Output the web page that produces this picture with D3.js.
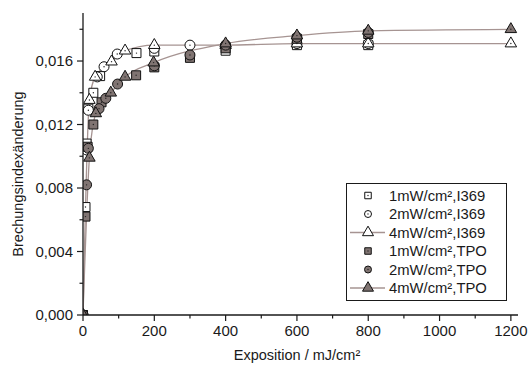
<!DOCTYPE html>
<html><head><meta charset="utf-8">
<script src="https://cdn.jsdelivr.net/npm/d3@7"></script>
<style>html,body{margin:0;padding:0;background:#fff;}svg{display:block;}</style>
</head><body>
<svg id="chart" width="528" height="365"></svg>
<script>
// ---- data ----
const i369_1mW_x = [0, 7, 10, 15, 29, 48, 150, 200, 400, 600, 800];
const i369_1mW_y = [0, 0.0068, 0.0108, 0.0130, 0.0140, 0.01505, 0.0165, 0.0166, 0.01665, 0.0170, 0.0170];
const i369_2mW_x = [0, 10, 15, 40, 59, 96, 200, 300, 400, 600, 800];
const i369_2mW_y = [0, 0.0104, 0.0129, 0.0150, 0.01564, 0.01644, 0.0168, 0.0170, 0.0170, 0.0171, 0.0171];
const i369_4mW_x = [0, 18, 34, 80, 118, 200, 400, 600, 800, 1200];
const i369_4mW_y = [0, 0.01354, 0.0150, 0.01596, 0.01665, 0.0170, 0.0170, 0.0171, 0.0171, 0.0171];
const tpo_1mW_x = [0, 7, 13, 29, 52, 149, 200, 300, 400, 600, 800];
const tpo_1mW_y = [0, 0.0062, 0.0106, 0.0120, 0.0134, 0.0151, 0.0156, 0.0162, 0.0168, 0.0174, 0.0177];
const tpo_2mW_x = [0, 10, 15, 45, 64, 97, 200, 300, 400, 600, 800];
const tpo_2mW_y = [0, 0.0082, 0.0105, 0.0130, 0.01365, 0.01455, 0.0157, 0.01638, 0.0170, 0.0175, 0.0178];
const tpo_4mW_x = [0, 18, 36, 78, 118, 198, 400, 600, 800, 1200];
const tpo_4mW_y = [0, 0.0099, 0.0127, 0.0140, 0.0150, 0.0159, 0.0171, 0.0176, 0.0179, 0.0180];

const seriesNames = ["1mW/cm\u00b2,I369", "2mW/cm\u00b2,I369", "4mW/cm\u00b2,I369",
                     "1mW/cm\u00b2,TPO", "2mW/cm\u00b2,TPO", "4mW/cm\u00b2,TPO"];
const xTicks = [0, 200, 400, 600, 800, 1000, 1200];
const xMinorTicks = [100, 300, 500, 700, 900, 1100];
const yTicks = [0, 0.004, 0.008, 0.012, 0.016];
const yMinorTicks = [0.002, 0.006, 0.010, 0.014, 0.018];
const xTitle = "Exposition / mJ/cm\u00b2";
const yTitle = "Brechungsindex\u00e4nderung";

// ---- styles ----
const GRAY = "#807472";
const LINE = "#a69492";
const TXT = "#1a1a1a";
const FONT = "'Liberation Sans', Arial, Helvetica, sans-serif";

const series = [
  {name: seriesNames[0], xs: i369_1mW_x, ys: i369_1mW_y, shape: "square", fill: "#fff", line: false},
  {name: seriesNames[1], xs: i369_2mW_x, ys: i369_2mW_y, shape: "circle", fill: "#fff", line: false},
  {name: seriesNames[2], xs: i369_4mW_x, ys: i369_4mW_y, shape: "triangle", fill: "#fff", line: true},
  {name: seriesNames[3], xs: tpo_1mW_x, ys: tpo_1mW_y, shape: "square", fill: GRAY, line: false},
  {name: seriesNames[4], xs: tpo_2mW_x, ys: tpo_2mW_y, shape: "circle", fill: GRAY, line: false},
  {name: seriesNames[5], xs: tpo_4mW_x, ys: tpo_4mW_y, shape: "triangle", fill: GRAY, line: true}
];

const svg = d3.select("#chart");
const x = d3.scaleLinear().domain([0, 1220]).range([83, 518]);
const y = d3.scaleLinear().domain([0, 0.019]).range([315, 13.4]);

const fmtY = v => d3.format(".3f")(v).replace(".", ",");

svg.append("defs").append("clipPath").attr("id", "plotclip")
  .append("rect").attr("x", 83).attr("y", 0).attr("width", 445).attr("height", 315);

function shapePath(shape, s) {
  if (shape === "square") return d3.symbol(d3.symbolSquare, s * s)();
  if (shape === "circle") return d3.symbol(d3.symbolCircle, Math.PI * (s / 2) * (s / 2))();
  const h = s * Math.sqrt(3) / 2;
  return `M0,${-h * 2 / 3}L${s / 2},${h / 3}L${-s / 2},${h / 3}Z`;
}
const markerSize = {square: 9, circle: 10, triangle: 11.5};

const plot = svg.append("g").attr("clip-path", "url(#plotclip)");

const lineGen = d3.line().x(d => x(d[0])).y(d => y(d[1])).curve(d3.curveMonotoneX);
series.filter(s => s.line).forEach(s => {
  plot.append("path").datum(s.xs.map((v, i) => [v, s.ys[i]]))
    .attr("d", lineGen).attr("fill", "none").attr("stroke", LINE).attr("stroke-width", 1.3);
});

series.forEach(s => {
  const g = plot.append("g");
  const pts = s.xs.map((v, i) => [v, s.ys[i]]);
  g.selectAll("path.m").data(pts).enter().append("path").attr("class", "m")
    .attr("transform", d => `translate(${x(d[0])},${y(d[1])})`)
    .attr("d", shapePath(s.shape, markerSize[s.shape]))
    .attr("fill", s.fill).attr("stroke", "#111").attr("stroke-width", 1);
  g.selectAll("circle.c").data(pts).enter().append("circle").attr("class", "c")
    .attr("cx", d => x(d[0])).attr("cy", d => y(d[1])).attr("r", 0.7)
    .attr("fill", "#222");
});

const xAxis = svg.append("g").attr("transform", "translate(0,315)");
xAxis.append("line").attr("x1", 83).attr("x2", 518).attr("stroke", TXT).attr("stroke-width", 1.3);
xAxis.selectAll("line.maj").data(xTicks).enter().append("line").attr("class", "maj")
  .attr("x1", d => x(d)).attr("x2", d => x(d)).attr("y1", 0).attr("y2", 6).attr("stroke", TXT).attr("stroke-width", 1.2);
xAxis.selectAll("line.min").data(xMinorTicks).enter().append("line").attr("class", "min")
  .attr("x1", d => x(d)).attr("x2", d => x(d)).attr("y1", 0).attr("y2", 3.5).attr("stroke", TXT).attr("stroke-width", 1.2);
xAxis.selectAll("text").data(xTicks).enter().append("text")
  .attr("x", d => x(d)).attr("y", 21).attr("text-anchor", "middle")
  .attr("font-family", FONT).attr("font-size", 15).attr("fill", TXT).text(d => d);

const yAxis = svg.append("g");
yAxis.append("line").attr("x1", 83).attr("x2", 83).attr("y1", 315).attr("y2", 13).attr("stroke", TXT).attr("stroke-width", 1.3);
yAxis.selectAll("line.maj").data(yTicks).enter().append("line").attr("class", "maj")
  .attr("x1", 77).attr("x2", 83).attr("y1", d => y(d)).attr("y2", d => y(d)).attr("stroke", TXT).attr("stroke-width", 1.2);
yAxis.selectAll("line.min").data(yMinorTicks).enter().append("line").attr("class", "min")
  .attr("x1", 79.5).attr("x2", 83).attr("y1", d => y(d)).attr("y2", d => y(d)).attr("stroke", TXT).attr("stroke-width", 1.2);
yAxis.selectAll("text").data(yTicks).enter().append("text")
  .attr("x", 73).attr("y", d => y(d)).attr("dy", "0.36em").attr("text-anchor", "end")
  .attr("font-family", FONT).attr("font-size", 15).attr("fill", TXT).text(fmtY);

svg.append("text").attr("x", 297).attr("y", 360).attr("text-anchor", "middle")
  .attr("font-family", FONT).attr("font-size", 14.5).attr("fill", TXT).text(xTitle);
svg.append("text").attr("transform", "translate(23,174) rotate(-90)").attr("text-anchor", "middle")
  .attr("font-family", FONT).attr("font-size", 14.5).attr("fill", TXT).text(yTitle);

const lg = svg.append("g");
lg.append("rect").attr("x", 346.5).attr("y", 183.5).attr("width", 160).attr("height", 117)
  .attr("fill", "#fff").attr("stroke", TXT).attr("stroke-width", 1);
const legSize = {square: 6.5, circle: 7, triangle: 11};
series.forEach((s, i) => {
  const cy = 195.5 + i * 18.5;
  if (s.line) {
    lg.append("line").attr("x1", 350).attr("x2", 385).attr("y1", cy).attr("y2", cy)
      .attr("stroke", LINE).attr("stroke-width", 1.3);
  }
  lg.append("path").attr("transform", `translate(368,${cy})`)
    .attr("d", shapePath(s.shape, legSize[s.shape]))
    .attr("fill", s.fill).attr("stroke", "#111").attr("stroke-width", 1);
  if (s.shape !== "triangle") {
    lg.append("circle").attr("cx", 368).attr("cy", cy).attr("r", 0.7).attr("fill", "#222");
  }
  lg.append("text").attr("x", 389).attr("y", cy).attr("dy", "0.36em")
    .attr("font-family", FONT).attr("font-size", 14.8).attr("fill", TXT).text(s.name);
});
</script>
</body></html>
